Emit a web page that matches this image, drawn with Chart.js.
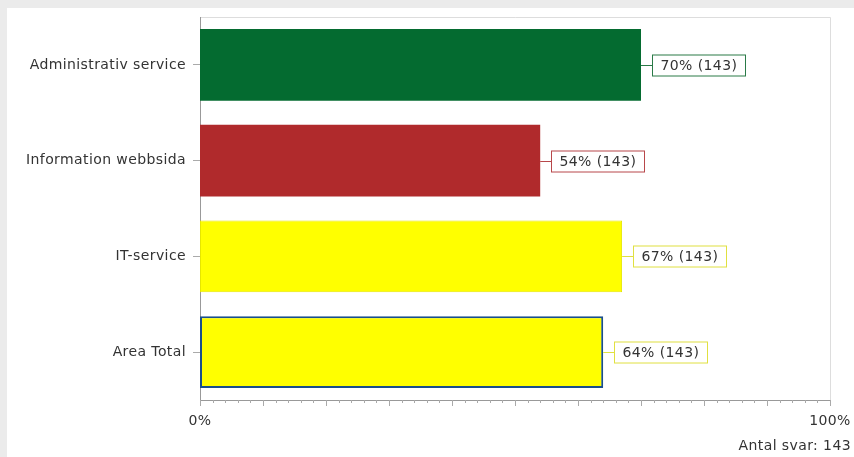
<!DOCTYPE html>
<html><head><meta charset="utf-8">
<script src="https://cdn.jsdelivr.net/npm/chart.js@4"></script>
<style>html,body{margin:0;padding:0;background:#ebebeb;overflow:hidden}#wrap{position:absolute;left:0;top:0;width:854px;height:457px}</style>
</head><body><div id="wrap"><canvas id="c" width="854" height="457"></canvas></div>
<script>
const categories = ["Administrativ service", "Information webbsida", "IT-service", "Area Total"];
const values = [70, 54, 67, 64];
const counts = [143, 143, 143, 143];
const barColors = ["#046b30", "#b02a2c", "#ffff00", "#ffff00"];
const barBorders = ["#046b30", "#b02a2c", "#e6e600", "#1a4f8b"];
const barBorderWidths = [0, 0, 1, 2];
const labelBorders = ["#2a7a47", "#b8474a", "#e0e040", "#e0e040"];
const totalAnswers = 143;
const FONT = "DejaVu Sans";
const FS = 14;

const bgPlugin = {
  id: 'bg',
  beforeDraw(chart) {
    const ctx = chart.ctx;
    ctx.letterSpacing = '0.4px';
    ctx.save();
    ctx.fillStyle = '#ebebeb';
    ctx.fillRect(0, 0, chart.width, chart.height);
    ctx.fillStyle = '#ffffff';
    ctx.fillRect(7, 8, chart.width - 7, chart.height - 8);
    const a = chart.chartArea;
    ctx.strokeStyle = '#dddddd';
    ctx.lineWidth = 1;
    ctx.beginPath();
    ctx.moveTo(a.left, a.top + 0.5); ctx.lineTo(a.right + 0.5, a.top + 0.5);
    ctx.lineTo(a.right + 0.5, a.bottom);
    ctx.stroke();
    ctx.restore();
  },
  afterDraw(chart) {
    const ctx = chart.ctx;
    const xs = chart.scales.x;
    const a = chart.chartArea;
    ctx.save();
    ctx.strokeStyle = '#aaaaaa';
    ctx.lineWidth = 1;
    for (let v = 0; v <= 100; v += 2) {
      const px = Math.round(xs.getPixelForValue(v)) + 0.5;
      const len = (v % 10 === 0) ? 6 : 3;
      ctx.beginPath();
      ctx.moveTo(px, a.bottom);
      ctx.lineTo(px, a.bottom + len);
      ctx.stroke();
    }
    ctx.fillStyle = '#333333';
    ctx.font = FS + 'px "' + FONT + '"';
    ctx.textAlign = 'right';
    ctx.textBaseline = 'middle';
    ctx.fillText('Antal svar: ' + totalAnswers, 851, 446);
    const meta = chart.getDatasetMeta(0);
    meta.data.forEach((bar, i) => {
      const x0 = bar.x;
      const y = Math.round(bar.y) + 0.5;
      const bx = Math.round(x0 + 11) + 0.5;
      const text = values[i] + '% (' + counts[i] + ')';
      const tw = ctx.measureText(text).width;
      const w = Math.round(tw + 16);
      const h = 21;
      ctx.strokeStyle = labelBorders[i];
      ctx.beginPath();
      ctx.moveTo(x0, y); ctx.lineTo(bx, y);
      ctx.stroke();
      ctx.fillStyle = '#ffffff';
      ctx.fillRect(bx, y - h / 2, w, h);
      ctx.strokeRect(bx, y - h / 2, w, h);
      ctx.fillStyle = '#333333';
      ctx.textAlign = 'left';
      ctx.fillText(text, bx + 8, y + 1);
    });
    ctx.restore();
  }
};

new Chart(document.getElementById('c'), {
  type: 'bar',
  data: {
    labels: categories,
    datasets: [{
      data: values,
      backgroundColor: barColors,
      borderColor: barBorders,
      borderWidth: barBorderWidths,
      borderSkipped: false,
      barPercentage: 0.75,
      categoryPercentage: 1.0
    }]
  },
  options: {
    indexAxis: 'y',
    responsive: false,
    animation: false,
    devicePixelRatio: 1,
    layout: { padding: { left: 0, right: 24, top: 17, bottom: 0 } },
    plugins: { legend: { display: false }, tooltip: { enabled: false } },
    scales: {
      x: {
        min: 0, max: 100,
        grid: { display: false, drawTicks: false },
        border: { display: true, color: '#999999' },
        ticks: {
          stepSize: 100,
          padding: 13,
          color: '#333333',
          font: { family: FONT, size: FS },
          callback: v => v + '%'
        },
        afterFit(s) { s.height = 57; s.paddingLeft = 0; s.paddingRight = 0; }
      },
      y: {
        grid: { display: true, offset: false, drawOnChartArea: false, tickLength: 7, color: '#aaaaaa' },
        border: { display: true, color: '#999999' },
        ticks: { color: '#333333', padding: 7, font: { family: FONT, size: FS } },
        afterFit(s) { s.width = 200; }
      }
    }
  },
  plugins: [bgPlugin]
});
</script>
</body></html>
